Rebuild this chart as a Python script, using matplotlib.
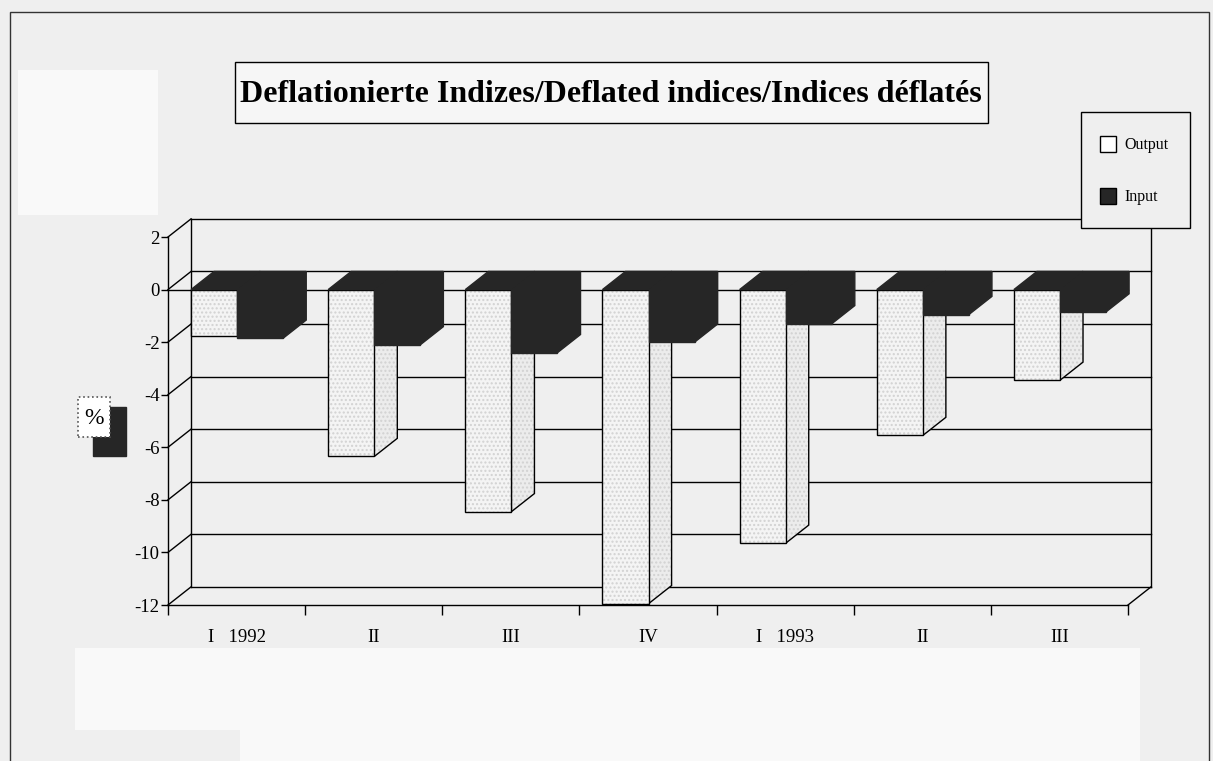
import matplotlib
matplotlib.use("Agg")
import matplotlib.pyplot as plt
from matplotlib.patches import Polygon, Rectangle

# ---- data ----
categories = ["I   1992", "II", "III", "IV", "I   1993", "II", "III"]
output_vals = [-1.75, -6.35, -8.45, -11.95, -9.65, -5.55, -3.45]
input_vals = [-1.85, -2.1, -2.4, -2.0, -1.3, -0.95, -0.85]
yticks = [-12, -10, -8, -6, -4, -2, 0, 2]
title = "Deflationierte Indizes/Deflated indices/Indices déflatés"
series_names = ["Output", "Input"]

# ---- style ----
BG = "#efefef"
DARK = "#262626"
LIGHT = "#f4f4f4"
LIGHT_SIDE = "#ececec"
SERIF = ["Liberation Serif", "DejaVu Serif"]
plt.rcParams["font.family"] = SERIF

W, H = 1213, 761
fig = plt.figure(figsize=(W / 100, H / 100), dpi=100, facecolor=BG)

def fx(px):
    return px / W

def fy(py):
    return 1 - py / H

# decorative lighter patches (scan look)
for (x0, y0, x1, y1) in [(75, 648, 1140, 730), (18, 70, 158, 215), (240, 730, 1140, 761)]:
    fig.patches.append(Rectangle((fx(x0), fy(y1)), fx(x1 - x0), fy(y0) - fy(y1),
                                 transform=fig.transFigure, facecolor="#f9f9f9",
                                 edgecolor="none", zorder=0))
# outer frame
fig.patches.append(Rectangle((fx(10), -0.02), fx(1209 - 10), fy(12) + 0.02,
                             transform=fig.transFigure, facecolor="none",
                             edgecolor="#333333", lw=1.0, zorder=1))

ax = fig.add_axes([fx(168), fy(605), fx(1128 - 168), fy(237) - fy(605)])
ax.set_facecolor("none")
n = len(categories)
ax.set_xlim(0, n)
ax.set_ylim(-12, 2)

DX, DY = 0.168, 0.69   # pseudo-3D depth offset (category units, value units)
BW = 0.336              # bar width
GAP = 0.168

lk = dict(color="black", lw=1.0, clip_on=False)

# back wall gridlines and left wall diagonals
for v in yticks:
    ax.plot([DX, n + DX], [v + DY, v + DY], zorder=1.5, **lk)
    ax.plot([0, DX], [v, v + DY], zorder=1.5, **lk)
ax.plot([DX, DX], [-12 + DY, 2 + DY], zorder=1.5, **lk)
ax.plot([n + DX, n + DX], [-12 + DY, 2 + DY], zorder=1.5, **lk)
ax.plot([n, n + DX], [-12, -12 + DY], zorder=1.5, **lk)
# zero line on front plane
ax.plot([0, n], [0, 0], zorder=1.8, **lk)


def bar3d(x0, v, face, side, top, edge, hatch=None):
    x1 = x0 + BW
    front = [(x0, 0), (x1, 0), (x1, v), (x0, v)]
    sidep = [(x1, 0), (x1 + DX, DY), (x1 + DX, v + DY), (x1, v)]
    topp = [(x0, 0), (x1, 0), (x1 + DX, DY), (x0 + DX, DY)]
    for pts, fc in ((sidep, side), (front, face)):
        ax.add_patch(Polygon(pts, closed=True, facecolor=fc, edgecolor="none",
                             zorder=3, clip_on=False))
        if hatch:
            ax.add_patch(Polygon(pts, closed=True, facecolor="none", edgecolor="#d2d2d2",
                                 hatch=hatch, lw=0, zorder=3, clip_on=False))
        ax.add_patch(Polygon(pts, closed=True, facecolor="none", edgecolor=edge,
                             lw=1.0, zorder=3, clip_on=False))
    ax.add_patch(Polygon(topp, closed=True, facecolor=top, edgecolor=DARK,
                         lw=1.0, zorder=3, clip_on=False))


for i in range(n):
    bar3d(i + GAP, output_vals[i], LIGHT, LIGHT_SIDE, DARK, "black", hatch="....")
    bar3d(i + GAP + BW, input_vals[i], DARK, DARK, DARK, DARK)

# axes / ticks
for s in ("top", "right"):
    ax.spines[s].set_visible(False)
for s in ("left", "bottom"):
    ax.spines[s].set_linewidth(1.0)
ax.set_yticks(yticks)
ax.set_yticklabels([str(v) for v in yticks])
ax.tick_params(axis="y", direction="out", length=5, width=1, pad=1, labelsize=13.5)
ax.set_xticks(range(n + 1))
ax.set_xticklabels([""] * (n + 1))
ax.tick_params(axis="x", which="major", direction="out", length=7, width=1)
ax.set_xticks([i + 0.5 for i in range(n)], minor=True)
ax.set_xticklabels(categories, minor=True)
ax.tick_params(axis="x", which="minor", length=0, pad=17, labelsize=13.5)

# title box
fig.patches.append(Rectangle((fx(235), fy(123)), fx(988 - 235), fy(62) - fy(123),
                             transform=fig.transFigure, facecolor="#f6f6f6",
                             edgecolor="black", lw=1.0, zorder=2))
fig.text(fx(611), fy(95), title, ha="center", va="center", fontsize=23,
         fontweight="bold", family=SERIF, zorder=3)

# legend box
fig.patches.append(Rectangle((fx(1081), fy(228)), fx(1190 - 1081), fy(112) - fy(228),
                             transform=fig.transFigure, facecolor=BG,
                             edgecolor="black", lw=1.0, zorder=4))
for (yy, fc, name) in ((136, "white", series_names[0]), (188, DARK, series_names[1])):
    fig.patches.append(Rectangle((fx(1100), fy(yy + 16)), fx(16), fy(yy) - fy(yy + 16),
                                 transform=fig.transFigure, facecolor=fc,
                                 edgecolor="black", lw=1.0, zorder=5))
    fig.text(fx(1124), fy(yy + 9), name, ha="left", va="center", fontsize=11.5,
             family=SERIF, zorder=5)

# % icon
fig.patches.append(Rectangle((fx(93), fy(456)), fx(33), fy(407) - fy(456),
                             transform=fig.transFigure, facecolor=DARK,
                             edgecolor=DARK, lw=1.0, zorder=4))
fig.patches.append(Rectangle((fx(78), fy(437)), fx(32), fy(397) - fy(437),
                             transform=fig.transFigure, facecolor="white",
                             edgecolor="#555555", lw=1.2, ls=":", zorder=5))
fig.text(fx(94), fy(418), "%", ha="center", va="center", fontsize=17,
         family=SERIF, zorder=6)

fig.savefig("out.png", dpi=100, facecolor=BG)
